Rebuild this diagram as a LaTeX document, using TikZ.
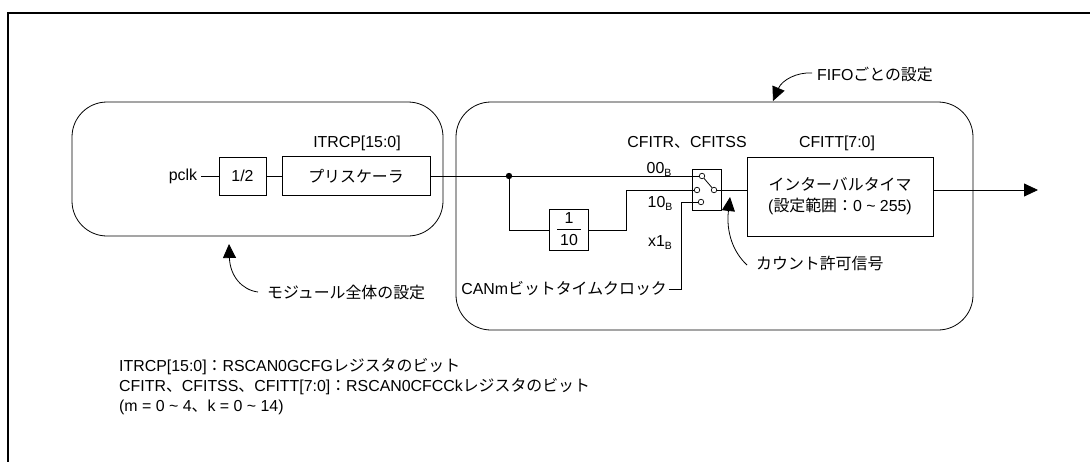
\documentclass[tikz,border=0pt]{standalone}
\usepackage{fontspec}
\setmainfont{Liberation Sans}
\newfontfamily\jp{Noto Sans CJK JP}
\usetikzlibrary{arrows.meta}
\newcommand\J[1]{{\jp #1}}
\newcommand\subB{\raisebox{-3pt}{\fontsize{10.5}{10.5}\selectfont B}}
\begin{document}
\begin{tikzpicture}[x=1pt,y=-1pt,
  every node/.style={font=\fontsize{15.9}{18}\selectfont, inner sep=2pt},
  thin line/.style={line width=0.8pt},
  blockbox/.style={draw, line width=0.8pt, inner sep=0pt},
  swcircle/.style={circle, draw, fill=white, line width=0.7pt, inner sep=0pt, minimum size=5.5pt},
  pointer/.style={line width=0.8pt, -{Triangle[length=14pt,width=13pt]}},
  region/.style={draw, line width=0.8pt, rounded corners=35pt}]
\useasboundingbox (0,0) rectangle (1090,461);
% frame
\draw[line width=2pt] (8,470) -- (8,13) -- (1100,13);
% regions
\draw[region] (72,102) rectangle (443,236);
\draw[region] (456,102) rectangle (973,330);
% left part
\node (pclk) at (183,176) {pclk};
\node[blockbox, minimum width=47pt, minimum height=38pt] (half) at (242.5,176) {1/2};
\node[blockbox, minimum width=148pt, minimum height=39pt] (pre) at (356,176) {\J{プリスケーラ}};
\node (itrcp) at (357,143) {ITRCP[15:0]};
\draw[thin line] ([xshift=2pt]pclk.east) -- (half.west);
\draw[thin line] (half.east) -- (pre.west);
% switch
\node[blockbox, minimum width=29pt, minimum height=41pt] (sw) at (706.5,189.5) {};
\node[swcircle] (c1) at (702,176) {};
\node[swcircle] (c2) at (697,190) {};
\node[swcircle] (c3) at (701,202) {};
\node[swcircle] (c4) at (714,190) {};
\draw[thin line] (c1) -- (c4);
% divider 1/10
\node[blockbox, minimum width=39pt, minimum height=41pt] (div) at (568.5,230) {};
\node (one) at (569,218) {1};
\node (ten) at (569,240.5) {10};
\draw[thin line] (557,229) -- (581,229);
% main path
\coordinate (dot) at (509,176);
\draw[thin line] (pre.east) -- (c1.west);
\fill (dot) circle (3.2pt);
\draw[thin line] (dot) |- (div.west);
\coordinate (k1) at (626,230);
\coordinate (k2) at (626,190);
\draw[thin line] (div.east) -- (k1) -- (k2) -- (c2.west);
% CANm clock
\node[anchor=east] (canm) at (669,289) {CANm\J{ビットタイムクロック}};
\coordinate (m1) at (681,202);
\coordinate (m2) at (681,289);
\draw[thin line] (c3.west) -- (m1) -- (m2) -- (canm.east);
% labels at switch
\node (cfitr) at (687,142) {CFITR\J{、}CFITSS};
\node (l00) at (659,169) {00\subB};
\node (l10) at (660,203) {10\subB};
\node (lx1) at (660,243) {x1\subB};
% interval timer
\node[blockbox, minimum width=186pt, minimum height=79pt, align=center,
      font=\fontsize{15.9}{21}\selectfont] (timer) at (840,196.5)
  {\J{インターバルタイマ}\\(\J{設定範囲：}0 \textasciitilde{} 255)};
\node (cfitt) at (837,143) {CFITT[7:0]};
\coordinate (out) at (1038,190);
\draw[thin line] (c4.east) -- (timer.west |- c4);
\draw[thin line, -{Triangle[length=14pt,width=13pt]}] (timer.east |- c4) -- (out);
% pointers
\node[anchor=west] (modtxt) at (265,292) {\J{モジュール全体の設定}};
\coordinate (modstart) at (258,292);
\coordinate (modtip) at (229,244);
\draw[pointer] (modstart) .. controls (242,290) and (230,276) .. (modtip);
\node[anchor=west] (fifotxt) at (815,74) {FIFO\J{ごとの設定}};
\coordinate (fifostart) at (812,73);
\coordinate (fifotip) at (773,101);
\draw[pointer] (fifostart) .. controls (797,72) and (782,80) .. (fifotip);
\node[anchor=west] (cnttxt) at (754,263) {\J{カウント許可信号}};
\coordinate (cntstart) at (747,265);
\coordinate (cnttip) at (730,197);
\draw[pointer] (cntstart) .. controls (733,252) and (726,232) .. (cnttip);
% notes
\node[anchor=west] (n1) at (117,367) {ITRCP[15:0]\J{：}RSCAN0GCFG\J{レジスタのビット}};
\node[anchor=west] (n2) at (117,387) {CFITR\J{、}CFITSS\J{、}CFITT[7:0]\J{：}RSCAN0CFCCk\J{レジスタのビット}};
\node[anchor=west] (n3) at (117,407) {(m = 0 \textasciitilde{} 4\J{、}k = 0 \textasciitilde{} 14)};
\end{tikzpicture}
\end{document}
